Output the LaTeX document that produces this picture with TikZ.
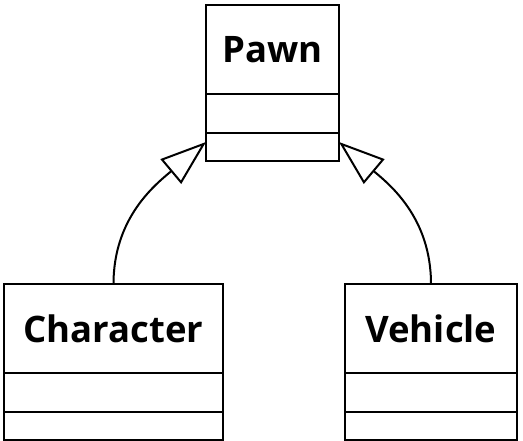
\documentclass[tikz,border=0pt]{standalone}
\usepackage{fontspec}
\setmainfont{Open Sans}
\usetikzlibrary{arrows.meta}
\usetikzlibrary{positioning}

\begin{document}
\begin{tikzpicture}[x=1pt,y=1pt]
	%\draw[help lines] (0,0) grid (523,-441);
	\useasboundingbox (0,0) rectangle (523,-441);
	
	\tikzstyle{cbox} = [rectangle,draw,line width=2pt,fill=white,outer sep=0pt,inner sep=0pt]
	\tikzstyle{cname} = [cbox,minimum height=89pt,font=\bfseries\fontsize{36.5}{40}\selectfont]
	\tikzstyle{cattr} = [cbox,minimum height=39pt]
	\tikzstyle{cops} = [cbox,minimum height=28pt]
	\tikzstyle{iedge} = [-{Triangle[open,length=46pt,width=32pt]},line width=2pt]
	
	% super class
	\node[cname,minimum width=133pt] (pawn) at (272.5,-49.5) {Pawn};
	\node[cattr,minimum width=133pt,below=0pt of pawn] (pawnattr) {};
	\node[cops,minimum width=133pt,below=0pt of pawnattr] (pawnops) {};
	
	% sub classes
	\node[cname,minimum width=219pt] (char) at (113.5,-328.5) {Character};
	\node[cattr,minimum width=219pt,below=0pt of char] (charattr) {};
	\node[cops,minimum width=219pt,below=0pt of charattr] (charops) {};
	
	\node[cname,minimum width=172pt] (veh) at (431,-328.5) {Vehicle};
	\node[cattr,minimum width=172pt,below=0pt of veh] (vehattr) {};
	\node[cops,minimum width=172pt,below=0pt of vehattr] (vehops) {};
	
	\draw (char) edge [iedge,out=90,in=220] ([yshift=5pt]pawnops.west);
	\draw (veh) edge [iedge,out=90,in=-40] ([yshift=5pt]pawnops.east);

\end{tikzpicture}
\end{document}
